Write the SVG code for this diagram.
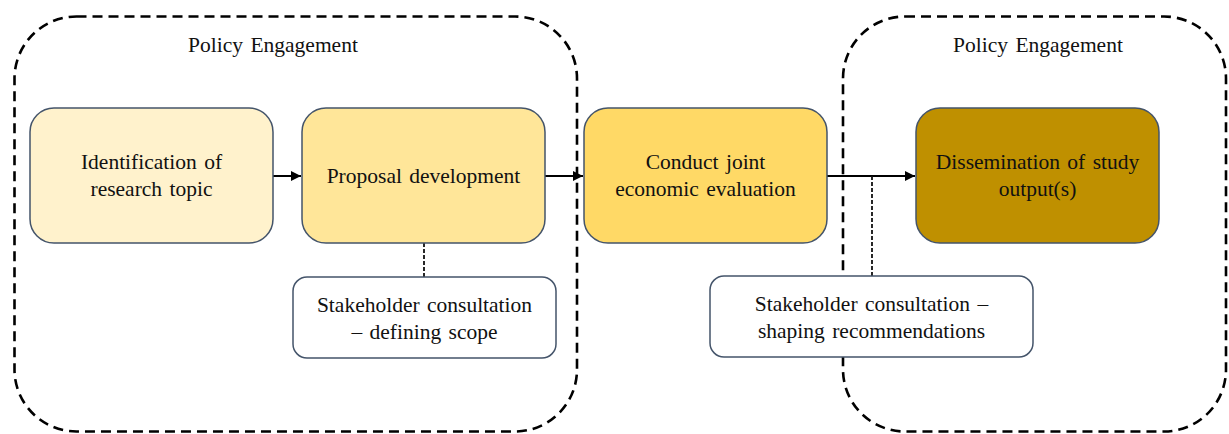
<svg xmlns="http://www.w3.org/2000/svg" width="1229" height="434" viewBox="0 0 1229 434">
<style>
.container{fill:none;stroke:#000;stroke-width:2.6;stroke-dasharray:10 6}
.step{stroke:#44546A;stroke-width:1.5}
.note{fill:#fff;stroke:#44546A;stroke-width:1.5}
text{font-family:"Liberation Serif","Times New Roman",serif;font-size:21.5px;word-spacing:2px;fill:#111;text-anchor:middle}
.arrow{stroke:#000;stroke-width:2;fill:none;marker-end:url(#ah)}
.dot{stroke:#111;stroke-width:1.8;stroke-dasharray:4 2;fill:none}
</style>
<defs>
<marker id="ah" viewBox="0 0 10 10" refX="10" refY="5" markerWidth="5" markerHeight="5" markerUnits="strokeWidth" orient="auto">
<path d="M0,0 L10,5 L0,10 z" fill="#000"/>
</marker>
</defs>
<rect width="1229" height="434" fill="#fff"/>
<g id="engagement-left">
<rect class="container" x="14.5" y="16.5" width="562.5" height="415" rx="62" ry="62"/>
<text x="273" y="52">Policy Engagement</text>
</g>
<g id="engagement-right">
<rect class="container" x="843" y="16.5" width="383" height="415" rx="62" ry="62"/>
<text x="1038" y="52">Policy Engagement</text>
</g>
<g id="connectors">
<line class="arrow" x1="273" y1="176" x2="301" y2="176"/>
<line class="arrow" x1="545" y1="176" x2="583" y2="176"/>
<line class="arrow" x1="827" y1="176" x2="915" y2="176"/>
<line class="dot" x1="424" y1="243" x2="424" y2="277"/>
<line class="dot" x1="872" y1="176" x2="872" y2="276"/>
</g>
<g id="identification">
<rect class="step" x="30" y="108" width="243" height="135" rx="24" fill="#FFF2CC"/>
<text x="151.5" y="169">Identification of</text>
<text x="151.5" y="196">research topic</text>
</g>
<g id="proposal">
<rect class="step" x="302" y="108" width="243" height="135" rx="24" fill="#FFE699"/>
<text x="423.5" y="183">Proposal development</text>
</g>
<g id="evaluation">
<rect class="step" x="584" y="108" width="243" height="135" rx="24" fill="#FFD966"/>
<text x="705.5" y="169">Conduct joint</text>
<text x="705.5" y="196">economic evaluation</text>
</g>
<g id="dissemination">
<rect class="step" x="916" y="108" width="243" height="135" rx="24" fill="#BF9000"/>
<text x="1037.5" y="169">Dissemination of study</text>
<text x="1037.5" y="196">output(s)</text>
</g>
<g id="consult-scope">
<rect class="note" x="293" y="277" width="263" height="81" rx="14"/>
<text x="424.5" y="312">Stakeholder consultation</text>
<text x="424.5" y="339">– defining scope</text>
</g>
<g id="consult-recommendations">
<rect class="note" x="710" y="276" width="323" height="81" rx="14"/>
<text x="871.5" y="311">Stakeholder consultation –</text>
<text x="871.5" y="338">shaping recommendations</text>
</g>
</svg>
